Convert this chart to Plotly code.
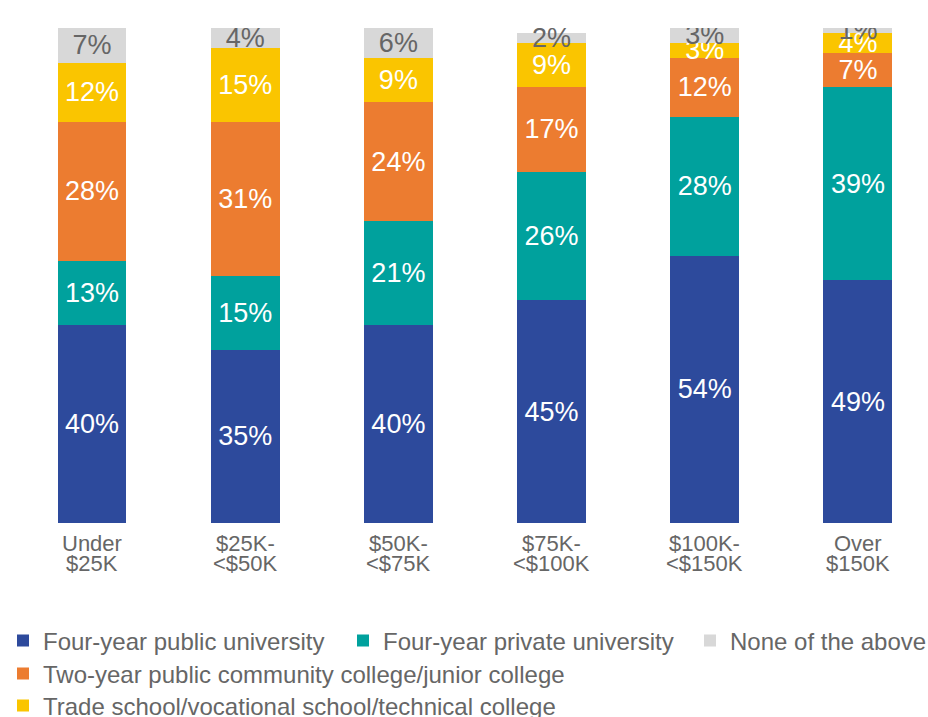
import plotly.graph_objects as go

categories = ["Under<br>$25K", "$25K-<br><$50K", "$50K-<br><$75K", "$75K-<br><$100K", "$100K-<br><$150K", "Over<br>$150K"]
tick_line1 = ["Under", "$25K-", "$50K-", "$75K-", "$100K-", "Over"]
tick_line2 = ["$25K", "<$50K", "<$75K", "<$100K", "<$150K", "$150K"]
four_year_public = [40, 35, 40, 45, 54, 49]
four_year_private = [13, 15, 21, 26, 28, 39]
two_year = [28, 31, 24, 17, 12, 7]
trade = [12, 15, 9, 9, 3, 4]
none_above = [7, 4, 6, 2, 3, 1]

series = [
    ("Four-year public university", four_year_public, "#2D4A9C", "white", "legend"),
    ("Four-year private university", four_year_private, "#00A19D", "white", "legend2"),
    ("Two-year public community college/junior college", two_year, "#EC7C30", "white", "legend4"),
    ("Trade school/vocational school/technical college", trade, "#FAC500", "white", "legend5"),
    ("None of the above", none_above, "#D8D8D8", "#666666", "legend3"),
]

FONT = "Liberation Sans, Arial, sans-serif"
GRAY = "#666666"
W, H = 928, 717
fig = go.Figure()
xs = list(range(len(categories)))
for name, vals, color, tcolor, lg in series:
    fig.add_trace(go.Bar(
        name=name, x=xs, y=vals,
        marker=dict(color=color, line=dict(width=0)),
        width=0.45,
        text=[f"{v}%" for v in vals],
        textposition="inside", insidetextanchor="middle", textangle=0,
        textfont=dict(color=tcolor, size=27, family=FONT),
        legend=lg,
    ))

annotations = []
for i in xs:
    annotations.append(dict(x=i, xref="x", y=0, yref="paper", text=tick_line1[i],
                            showarrow=False, yanchor="middle", yshift=-20,
                            font=dict(size=22, color=GRAY, family=FONT)))
    annotations.append(dict(x=i, xref="x", y=0, yref="paper", text=tick_line2[i],
                            showarrow=False, yanchor="middle", yshift=-40,
                            font=dict(size=22, color=GRAY, family=FONT)))

def leg(px, py):
    return dict(orientation="h", xref="container", x=px / W, xanchor="left",
                yref="container", y=(H - py) / H, yanchor="middle",
                font=dict(size=24, color=GRAY, family=FONT),
                bgcolor="rgba(0,0,0,0)")

fig.update_layout(
    barmode="stack",
    width=W, height=H,
    margin=dict(l=20, r=8, t=28, b=194, autoexpand=False),
    plot_bgcolor="white", paper_bgcolor="white",
    font=dict(family=FONT, color=GRAY),
    uniformtext=dict(minsize=27, mode="show"),
    xaxis=dict(
        tickmode="array", tickvals=xs, ticktext=[""] * len(xs),
        range=[-0.47, 5.405], showgrid=False, zeroline=False, showline=False,
        ticks="", automargin=False,
    ),
    yaxis=dict(range=[0, 100], visible=False, automargin=False),
    annotations=annotations,
    legend=leg(3, 641),
    legend2=leg(343, 641),
    legend3=leg(690, 641),
    legend4=leg(3, 674),
    legend5=leg(3, 706),
    showlegend=True,
)

fig.write_html("out.html", config={"displayModeBar": False},
               post_script="document.body.style.margin='0px';")
